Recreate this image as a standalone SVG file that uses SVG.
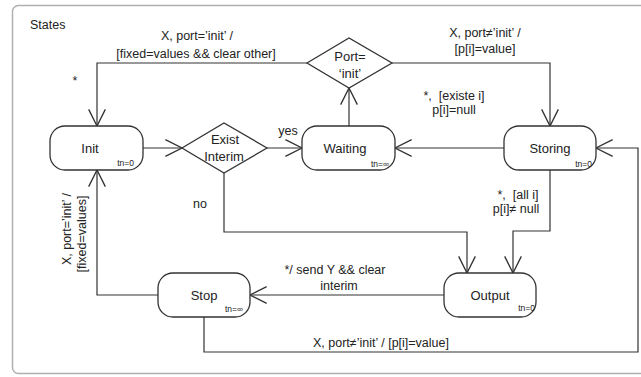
<svg xmlns="http://www.w3.org/2000/svg" width="641" height="377" viewBox="0 0 641 377">
<style>
  text { font-family: "Liberation Sans", Arial, sans-serif; fill: #222; }
  .lbl { font-size: 12.5px; }
  .node-label { font-size: 13px; text-anchor: middle; }
  .tn { font-size: 8.5px; text-anchor: end; }
  .state { fill: #fff; stroke: #333; stroke-width: 1.3; }
  .conn { fill: none; stroke: #333; stroke-width: 1.2; }
  .mid { text-anchor: middle; }
</style>
<defs>
  <marker id="arr" markerUnits="userSpaceOnUse" markerWidth="20" markerHeight="20" viewBox="-16 -9 18 18" refX="0" refY="0" orient="auto">
    <path d="M-15,-7.5 L0,0 L-15,7.5" fill="none" stroke="#333" stroke-width="1.2"/>
  </marker>
</defs>
<rect x="0" y="0" width="641" height="377" fill="#fff"/>
<rect x="12.5" y="5.5" width="636" height="368" rx="6" fill="#fff" stroke="#b0b0b0" stroke-width="1.5"/>
<text class="lbl" x="30" y="29">States</text>

<g id="connectors">
  <path class="conn" d="M307,63 H97 V126" marker-end="url(#arr)"/>
  <path class="conn" d="M143,148 H182" marker-end="url(#arr)"/>
  <path class="conn" d="M267,148 H302" marker-end="url(#arr)"/>
  <path class="conn" d="M224,173 V232 H467 V273" marker-end="url(#arr)"/>
  <path class="conn" d="M349,126 V88" marker-end="url(#arr)"/>
  <path class="conn" d="M392,63 H550 V126" marker-end="url(#arr)"/>
  <path class="conn" d="M504,148 H395" marker-end="url(#arr)"/>
  <path class="conn" d="M550,170 V231 H513 V273" marker-end="url(#arr)"/>
  <path class="conn" d="M444,295 H250" marker-end="url(#arr)"/>
  <path class="conn" d="M158,295 H97 V170" marker-end="url(#arr)"/>
  <path class="conn" d="M204,317 V352 H638 V148 H596" marker-end="url(#arr)"/>

  <text class="lbl mid" x="197" y="40">X, port=’init’ /</text>
  <text class="lbl mid" x="196" y="58">[fixed=values &amp;&amp; clear other]</text>
  <text class="lbl mid" x="75" y="85">*</text>
  <text class="lbl mid" x="288" y="135">yes</text>
  <text class="lbl mid" x="485" y="37">X, port≠’init’ /</text>
  <text class="lbl mid" x="485" y="53">[p[i]=value]</text>
  <text class="lbl mid" x="454" y="100">*,&#160; [existe i]</text>
  <text class="lbl mid" x="454" y="114">p[i]=null</text>
  <text class="lbl mid" x="518" y="199">*,&#160; [all i]</text>
  <text class="lbl mid" x="516" y="213">p[i]≠ null</text>
  <text class="lbl mid" x="200" y="208">no</text>
  <text class="lbl mid" x="335" y="274">*/ send Y &amp;&amp; clear</text>
  <text class="lbl mid" x="339" y="290">interim</text>
  <text class="lbl mid" x="381" y="347">X, port≠’init’ / [p[i]=value]</text>
  <text class="lbl mid" transform="translate(71,229) rotate(-90)">X, port=’init’ /</text>
  <text class="lbl mid" transform="translate(86,234) rotate(-90)">[fixed=values]</text>
</g>

<g id="init">
  <rect class="state" x="50" y="126" width="93" height="44" rx="15"/>
  <text class="node-label" x="90" y="153">Init</text>
  <text class="tn" x="134" y="166">tn=0</text>
</g>
<g id="exist-interim">
  <polygon class="state" points="182,148 224,123 267,148 224,173"/>
  <text class="node-label" x="225" y="144">Exist</text>
  <text class="node-label" x="224" y="161">Interim</text>
</g>
<g id="waiting">
  <rect class="state" x="302" y="126" width="93" height="44" rx="15"/>
  <text class="node-label" x="345" y="153">Waiting</text>
  <text class="tn" x="389" y="167">tn=∞</text>
</g>
<g id="port-init">
  <polygon class="state" points="307,63 349,38 392,63 349,88"/>
  <text class="node-label" x="350" y="61">Port=</text>
  <text class="node-label" x="350" y="78">‘init’</text>
</g>
<g id="storing">
  <rect class="state" x="504" y="126" width="92" height="44" rx="15"/>
  <text class="node-label" x="550" y="153">Storing</text>
  <text class="tn" x="592" y="167">tn=0</text>
</g>
<g id="output">
  <rect class="state" x="444" y="273" width="92" height="44" rx="15"/>
  <text class="node-label" x="490" y="300">Output</text>
  <text class="tn" x="535" y="311">tn=0</text>
</g>
<g id="stop">
  <rect class="state" x="158" y="273" width="92" height="44" rx="15"/>
  <text class="node-label" x="204" y="300">Stop</text>
  <text class="tn" x="243" y="312">tn=∞</text>
</g>
</svg>
